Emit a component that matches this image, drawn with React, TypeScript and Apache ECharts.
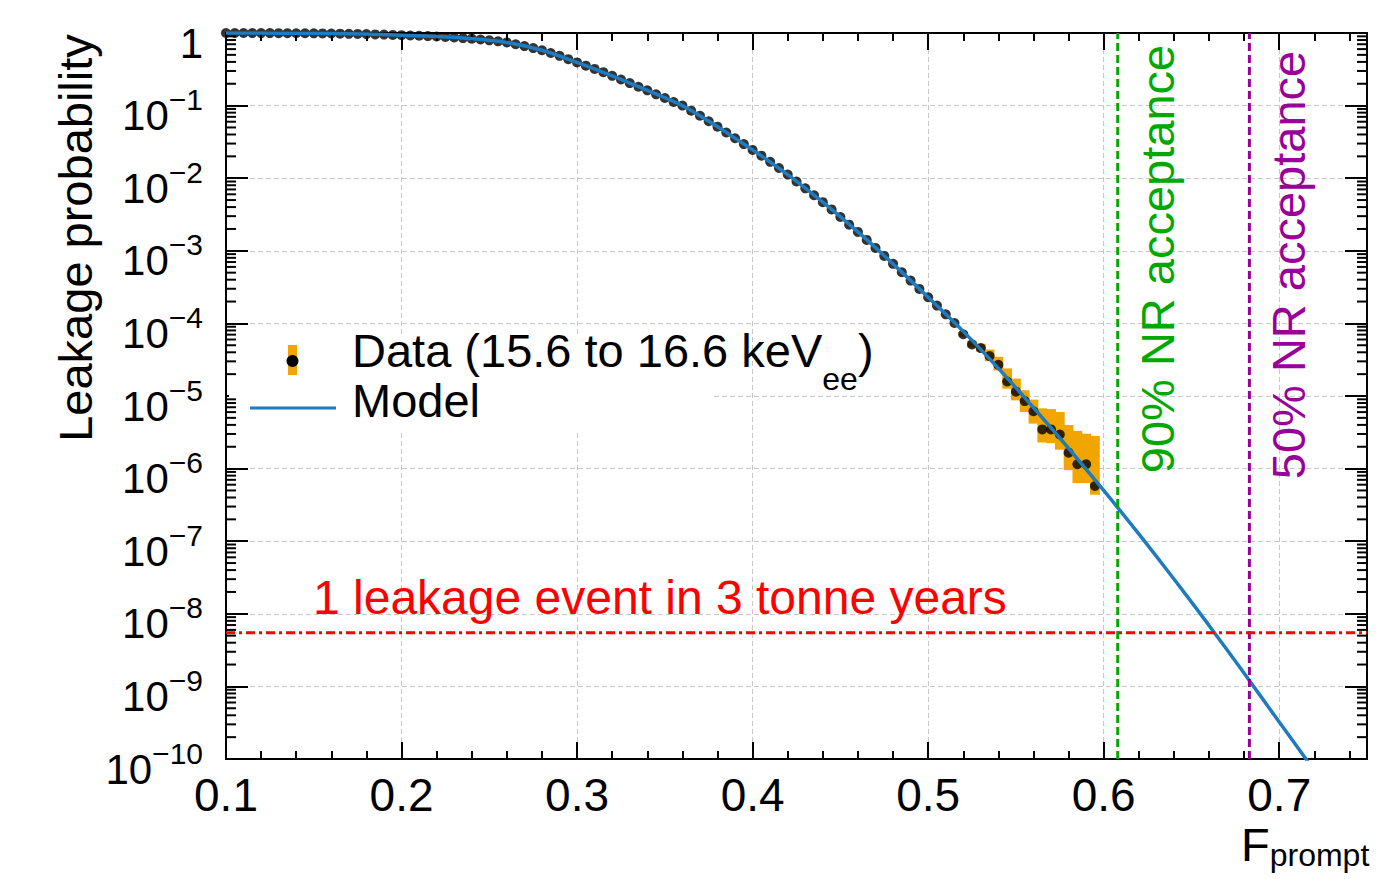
import React, { useEffect, useRef } from "react";
import * as echarts from "echarts";

const FONT = '"Liberation Sans", Arial, Helvetica, sans-serif';

// ---- Data ----
const dataX = [
  0.1, 0.105, 0.11, 0.115, 0.12, 0.125, 0.13, 0.135, 0.14, 0.145,
  0.15, 0.155, 0.16, 0.165, 0.17, 0.175, 0.18, 0.185, 0.19, 0.195,
  0.2, 0.205, 0.21, 0.215, 0.22, 0.225, 0.23, 0.235, 0.24, 0.245,
  0.25, 0.255, 0.26, 0.265, 0.27, 0.275, 0.28, 0.285, 0.29, 0.295,
  0.3, 0.305, 0.31, 0.315, 0.32, 0.325, 0.33, 0.335, 0.34, 0.345,
  0.35, 0.355, 0.36, 0.365, 0.37, 0.375, 0.38, 0.385, 0.39, 0.395,
  0.4, 0.405, 0.41, 0.415, 0.42, 0.425, 0.43, 0.435, 0.44, 0.445,
  0.45, 0.455, 0.46, 0.465, 0.47, 0.475, 0.48, 0.485, 0.49, 0.495,
  0.5, 0.505, 0.51, 0.515, 0.52, 0.525, 0.53, 0.535, 0.54, 0.545,
  0.55, 0.555, 0.56, 0.565, 0.57, 0.575, 0.58, 0.585, 0.59, 0.595,
];
// log10 of the leakage probability of each data point
const dataLog10 = [
  0, 0, 0, -0.001, -0.001, -0.001, -0.002, -0.002, -0.003, -0.004,
  -0.005, -0.006, -0.007, -0.009, -0.011, -0.013, -0.015, -0.019, -0.022, -0.026,
  -0.03, -0.034, -0.038, -0.043, -0.048, -0.055, -0.062, -0.07, -0.078, -0.089,
  -0.101, -0.115, -0.13, -0.155, -0.18, -0.208, -0.237, -0.275, -0.315, -0.36,
  -0.405, -0.45, -0.495, -0.54, -0.59, -0.64, -0.69, -0.74, -0.79, -0.845,
  -0.895, -0.95, -1.0, -1.07, -1.14, -1.215, -1.29, -1.37, -1.45, -1.53,
  -1.61, -1.69, -1.775, -1.86, -1.95, -2.045, -2.14, -2.235, -2.33, -2.43,
  -2.535, -2.64, -2.74, -2.85, -2.96, -3.07, -3.18, -3.295, -3.41, -3.525,
  -3.64, -3.755, -3.875, -3.995, -4.15, -4.29, -4.34, -4.45, -4.57, -4.8,
  -4.94, -5.07, -5.21, -5.46, -5.46, -5.53, -5.78, -5.94, -5.94, -6.24,
];
// error bars of the tail points (log10 of upper / lower ends)
const bandX = [0.52, 0.525, 0.53, 0.535, 0.54, 0.545, 0.55, 0.555, 0.56, 0.565, 0.57, 0.575, 0.58, 0.585, 0.59, 0.595];
const bandUpLog10 = [-4.12, -4.24, -4.28, -4.36, -4.46, -4.62, -4.76, -4.92, -5.05, -5.17, -5.18, -5.22, -5.4, -5.48, -5.52, -5.55];
const bandLoLog10 = [-4.18, -4.33, -4.39, -4.52, -4.65, -4.9, -5.06, -5.22, -5.38, -5.64, -5.65, -5.74, -6.02, -6.2, -6.2, -6.36];

// model curve (log10 of probability)
const modelX = [
  0.1, 0.12, 0.14, 0.16, 0.18, 0.2, 0.22, 0.24, 0.26, 0.28,
  0.3, 0.32, 0.34, 0.36, 0.38, 0.4, 0.42, 0.44, 0.46, 0.48,
  0.5, 0.52, 0.54, 0.56, 0.58, 0.6, 0.62, 0.64, 0.66, 0.68,
  0.7, 0.72,
];
const modelLog10 = [
  0, -0.001, -0.003, -0.007, -0.015, -0.03, -0.048, -0.078, -0.13, -0.237,
  -0.405, -0.59, -0.79, -1.0, -1.29, -1.61, -1.95, -2.33, -2.74, -3.18,
  -3.64, -4.11, -4.62, -5.16, -5.72, -6.3, -6.9, -7.52, -8.16, -8.82,
  -9.49, -10.16,
];

const nr90Acceptance = 0.608;
const nr50Acceptance = 0.683;
const leakageLimit = 5.5e-9;

// axes
const xMin = 0.1;
const xMax = 0.75;
const xInterval = 0.1;
// y axis is drawn in log10 space: decades from 10^-10 to 10^0
const yMinExp = -10;
const yMaxExp = 0;
const yDecades = [0, -1, -2, -3, -4, -5, -6, -7, -8, -9];
const yMinorMantissas = [2, 3, 4, 5, 6, 7, 8, 9];

const COLORS = {
  model: "#1f7bbf",
  band: "#f0a500",
  green: "#00a800",
  purple: "#990099",
  red: "#ff0000",
  grid: "#c8c8c8",
};

export default function App() {
  const ref = useRef<HTMLDivElement>(null);

  useEffect(() => {
    if (!ref.current) return;
    const chart = echarts.init(ref.current, undefined, { renderer: "svg" });

    const points = dataX.map((x, i) => [x, dataLog10[i]]);
    const band = bandX.map((x, i) => [x, bandLoLog10[i], bandUpLog10[i]]);
    const model = modelX.map((x, i) => [x, modelLog10[i]]);
    const minorTicks: number[][] = [];
    yDecades.forEach((d) => {
      yMinorMantissas.forEach((m) => minorTicks.push([xMin, d - 1 + Math.log10(m)]));
    });
    const leakLog = Math.log10(leakageLimit);

    const axisLine = { show: true, onZero: false, lineStyle: { color: "#000", width: 2 } };
    const tickStyle = { color: "#000", width: 2 };

    const yLabelRich = {
      b: { fontSize: 42, fontFamily: FONT, color: "#000", lineHeight: 42, padding: [10, 0, 0, 0], verticalAlign: "top" },
      s: { fontSize: 30, fontFamily: FONT, color: "#000", lineHeight: 30, verticalAlign: "top" },
    };

    const refLine = (name: string, data: number[][], color: string, type: number[]) => ({
      type: "line",
      name,
      z: 5,
      silent: true,
      showSymbol: false,
      clip: true,
      lineStyle: { color, width: 3, type },
      data,
    });

    const option: any = {
      animation: false,
      backgroundColor: "#ffffff",
      grid: { left: 226, right: 17, top: 33, bottom: 120, containLabel: false },
      xAxis: [
        {
          type: "value",
          min: xMin,
          max: xMax,
          interval: xInterval,
          position: "bottom",
          axisLine,
          axisTick: { show: true, inside: true, length: 17, lineStyle: tickStyle },
          minorTick: { show: true, splitNumber: 5, length: 8, lineStyle: tickStyle },
          splitLine: { show: true, lineStyle: { color: COLORS.grid, type: [5, 3], width: 1 } },
          axisLabel: {
            margin: 13,
            fontSize: 46,
            fontFamily: FONT,
            color: "#000",
            showMaxLabel: false,
            formatter: (v: number) => v.toFixed(1),
          },
        },
        {
          type: "value",
          min: xMin,
          max: xMax,
          interval: xInterval,
          position: "top",
          axisLine,
          axisTick: { show: true, inside: true, length: 17, lineStyle: tickStyle },
          minorTick: { show: true, splitNumber: 5, length: 8, lineStyle: tickStyle },
          splitLine: { show: false },
          axisLabel: { show: false },
        },
      ],
      yAxis: [
        {
          type: "value",
          min: yMinExp,
          max: yMaxExp,
          interval: 1,
          position: "left",
          axisLine,
          axisTick: { show: true, inside: true, length: 22, lineStyle: tickStyle },
          splitLine: { show: true, lineStyle: { color: COLORS.grid, type: [5, 3], width: 1 } },
          axisLabel: {
            margin: 23,
            formatter: (v: number) => {
              const e = Math.round(v);
              if (e === 0) return "{b|1}";
              return "{b|10}{s|\u2212" + -e + "}";
            },
            rich: yLabelRich,
          },
        },
        {
          type: "value",
          min: yMinExp,
          max: yMaxExp,
          interval: 1,
          position: "right",
          axisLine,
          axisTick: { show: true, inside: true, length: 22, lineStyle: tickStyle },
          splitLine: { show: false },
          axisLabel: { show: false },
        },
      ],
      series: [
        {
          type: "custom",
          name: "yMinorTicks",
          xAxisIndex: 0,
          yAxisIndex: 0,
          silent: true,
          z: 10,
          data: minorTicks,
          encode: { x: 0, y: 1 },
          renderItem: (params: any, api: any) => {
            const cs = params.coordSys;
            const p = api.coord([api.value(0), api.value(1)]);
            const y = p[1];
            return {
              type: "group",
              children: [
                { type: "line", shape: { x1: cs.x, y1: y, x2: cs.x + 10, y2: y }, style: { stroke: "#000", lineWidth: 2 } },
                { type: "line", shape: { x1: cs.x + cs.width - 10, y1: y, x2: cs.x + cs.width, y2: y }, style: { stroke: "#000", lineWidth: 2 } },
              ],
            };
          },
        },
        {
          type: "custom",
          name: "errors",
          xAxisIndex: 0,
          yAxisIndex: 0,
          silent: true,
          z: 2,
          data: band,
          encode: { x: 0, y: [1, 2] },
          renderItem: (params: any, api: any) => {
            const x = api.value(0);
            const lo = api.value(1);
            const hi = api.value(2);
            const half = 0.0025;
            const a = api.coord([x - half, hi]);
            const b = api.coord([x + half, lo]);
            return {
              type: "rect",
              shape: { x: a[0] - 0.5, y: a[1], width: b[0] - a[0] + 1, height: b[1] - a[1] },
              style: { fill: COLORS.band },
            };
          },
        },
        {
          type: "scatter",
          name: "Data",
          z: 3,
          symbol: "circle",
          symbolSize: 10,
          itemStyle: { color: "#000" },
          data: points,
        },
        {
          type: "line",
          name: "Model",
          z: 4,
          smooth: 0.3,
          showSymbol: false,
          clip: true,
          lineStyle: { color: COLORS.model, width: 3.5 },
          data: model,
        },
        refLine("90% NR acceptance", [[nr90Acceptance, yMinExp], [nr90Acceptance, yMaxExp]], COLORS.green, [8, 4]),
        refLine("50% NR acceptance", [[nr50Acceptance, yMinExp], [nr50Acceptance, yMaxExp]], COLORS.purple, [8, 4]),
        refLine("1 leakage event in 3 tonne years", [[xMin, leakLog], [xMax, leakLog]], COLORS.red, [9, 4, 3, 4]),
      ],
      graphic: [
        {
          type: "text",
          x: 75,
          y: 238,
          z: 20,
          rotation: Math.PI / 2,
          style: { text: "Leakage probability", fontSize: 47, fontFamily: FONT, fill: "#000", align: "center", verticalAlign: "middle" },
        },
        {
          type: "text",
          x: 1241,
          y: 821,
          z: 20,
          style: {
            text: "{F|F}{s|prompt}",
            align: "left",
            verticalAlign: "top",
            rich: {
              F: { fontSize: 47, fontFamily: FONT, fill: "#000", lineHeight: 40, verticalAlign: "top" },
              s: { fontSize: 32, fontFamily: FONT, fill: "#000", lineHeight: 32, padding: [18, 0, 0, 0], verticalAlign: "top" },
            },
          },
        },
        {
          type: "text",
          x: 1157,
          y: 259,
          z: 20,
          rotation: Math.PI / 2,
          style: { text: "90% NR acceptance", fontSize: 47, fontFamily: FONT, fill: COLORS.green, align: "center", verticalAlign: "middle" },
        },
        {
          type: "text",
          x: 1288,
          y: 265,
          z: 20,
          rotation: Math.PI / 2,
          style: { text: "50% NR acceptance", fontSize: 47, fontFamily: FONT, fill: COLORS.purple, align: "center", verticalAlign: "middle" },
        },
        {
          type: "text",
          x: 313,
          y: 597,
          z: 20,
          style: { text: "1 leakage event in 3 tonne years", fontSize: 48, fontFamily: FONT, fill: COLORS.red, align: "left", verticalAlign: "middle" },
        },
        // legend box (white, hides the grid behind it)
        { type: "rect", z: 1, shape: { x: 229, y: 334, width: 483, height: 98 }, style: { fill: "#ffffff" } },
        { type: "rect", z: 20, shape: { x: 288, y: 345, width: 9, height: 30 }, style: { fill: COLORS.band } },
        { type: "circle", z: 21, shape: { cx: 292.5, cy: 361, r: 6 }, style: { fill: "#000" } },
        {
          type: "text",
          x: 352,
          y: 327,
          z: 20,
          style: {
            text: "{a|Data (15.6 to 16.6 keV}{s|ee}{a|)}",
            align: "left",
            verticalAlign: "top",
            rich: {
              a: { fontSize: 47, fontFamily: FONT, fill: "#000", lineHeight: 47, verticalAlign: "top" },
              s: { fontSize: 32, fontFamily: FONT, fill: "#000", lineHeight: 32, padding: [36, 0, 0, 0], verticalAlign: "top" },
            },
          },
        },
        { type: "line", z: 20, shape: { x1: 250, y1: 408, x2: 336, y2: 408 }, style: { stroke: COLORS.model, lineWidth: 3 } },
        {
          type: "text",
          x: 352,
          y: 400,
          z: 20,
          style: { text: "Model", fontSize: 47, fontFamily: FONT, fill: "#000", align: "left", verticalAlign: "middle" },
        },
      ],
    };

    chart.setOption(option);
    return () => chart.dispose();
  }, []);

  return (
    <div
      ref={ref}
      style={{ position: "fixed", left: 0, top: 0, width: 1384, height: 879, background: "#fff" }}
    />
  );
}
